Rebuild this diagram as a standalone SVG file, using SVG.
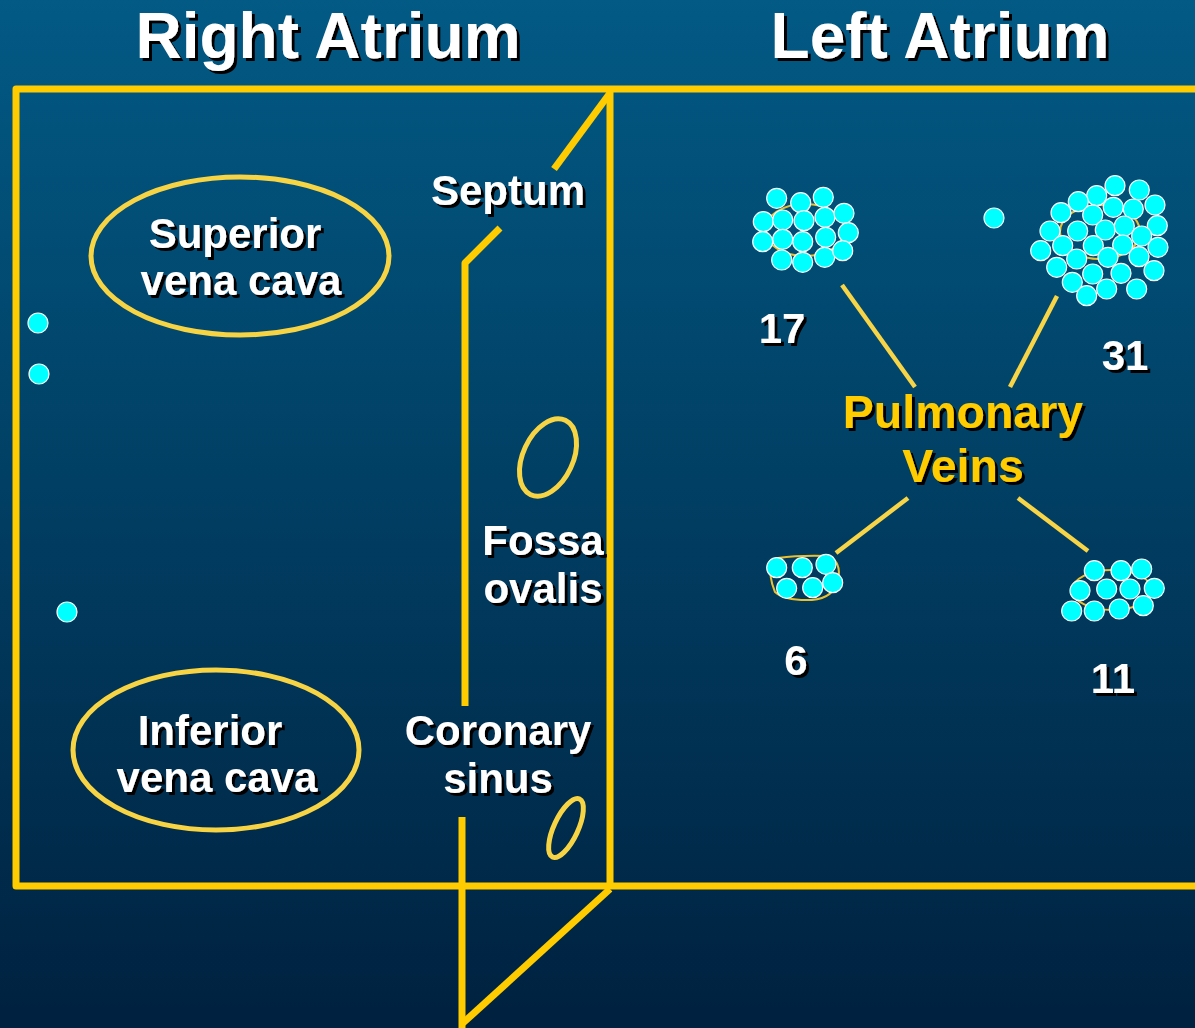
<svg xmlns="http://www.w3.org/2000/svg" width="1195" height="1028" viewBox="0 0 1195 1028">
<defs>
<linearGradient id="bg" x1="0" y1="0" x2="0" y2="1">
<stop offset="0" stop-color="#025a85"/>
<stop offset="1" stop-color="#00213f"/>
</linearGradient>
<filter id="sh" x="-10%" y="-10%" width="130%" height="140%">
<feDropShadow dx="3" dy="3" stdDeviation="0.4" flood-color="#000" flood-opacity="1"/>
</filter>
<circle id="d" r="10"/>
</defs>
<style>
.frame{fill:none;stroke:#ffcc00;stroke-width:7;stroke-linejoin:round}
.ell{fill:none;stroke:#f7d444;stroke-width:5}
.conn{stroke:#f7d547;stroke-width:4.5;fill:none}
.t{font-family:"Liberation Sans",Arial,sans-serif;font-weight:bold;fill:#fff;text-anchor:middle;filter:url(#sh)}
.h{font-size:64px}
.l{font-size:42px}
.pv{font-size:46.5px;fill:#ffcc00}
.dot{fill:#00ffff;stroke:#fff;stroke-width:1.2}
.blob{fill:none;stroke:#e8c030;stroke-width:2}
</style>
<rect width="1195" height="1028" fill="url(#bg)"/>

<g id="frame">
<path class="frame" d="M1199,89 H16 V886 H1199"/>
<path class="frame" d="M610,89 V886"/>
</g>

<g id="septum">
<path class="frame" d="M610,93 L554,169"/>
<path class="frame" d="M500,228 L465,263 V706"/>
<path class="frame" d="M462,817 V1028"/>
<path class="frame" d="M610,889 L463,1023"/>
</g>

<g id="titles">
<text class="t h" x="328" y="58">Right Atrium</text>
<text class="t h" x="940" y="58">Left Atrium</text>
</g>

<g id="svc">
<ellipse class="ell" cx="240" cy="256" rx="149" ry="79"/>
<text class="t l" x="235" y="248">Superior</text>
<text class="t l" x="241" y="295">vena cava</text>
</g>

<g id="ivc">
<ellipse class="ell" cx="216" cy="750" rx="143" ry="80"/>
<text class="t l" x="210" y="745">Inferior</text>
<text class="t l" x="217" y="792">vena cava</text>
</g>

<g id="septum-label">
<text class="t l" x="508" y="205">Septum</text>
</g>

<g id="fossa">
<ellipse class="ell" cx="548" cy="457.5" rx="25" ry="41" transform="rotate(25 548 457.5)"/>
<text class="t l" x="543" y="555">Fossa</text>
<text class="t l" x="543" y="603">ovalis</text>
</g>

<g id="coronary">
<text class="t l" x="498" y="745">Coronary</text>
<text class="t l" x="498" y="793">sinus</text>
<ellipse class="ell" cx="566" cy="828" rx="12" ry="32" transform="rotate(25 566 828)"/>
</g>

<g id="single-dots">
<use href="#d" class="dot" x="38" y="323"/>
<use href="#d" class="dot" x="39" y="374"/>
<use href="#d" class="dot" x="67" y="612"/>
<use href="#d" class="dot" x="994" y="218"/>
</g>

<g id="connectors">
<line class="conn" x1="842" y1="285" x2="915" y2="387"/>
<line class="conn" x1="1057" y1="296" x2="1010" y2="387"/>
<line class="conn" x1="908" y1="498" x2="836" y2="553"/>
<line class="conn" x1="1018" y1="498" x2="1088" y2="551"/>
</g>

<g id="pulmonary">
<text class="t pv" x="963" y="428">Pulmonary</text>
<text class="t pv" x="963" y="482">Veins</text>
</g>

<g id="vein17">
<ellipse class="blob" cx="805" cy="230" rx="40" ry="26"/>
<use href="#d" class="dot" x="776.7" y="198.3"/>
<use href="#d" class="dot" x="800.7" y="202.7"/>
<use href="#d" class="dot" x="823.3" y="197.3"/>
<use href="#d" class="dot" x="763.3" y="221.7"/>
<use href="#d" class="dot" x="782.7" y="220"/>
<use href="#d" class="dot" x="804" y="220.7"/>
<use href="#d" class="dot" x="825" y="217.3"/>
<use href="#d" class="dot" x="844" y="213.3"/>
<use href="#d" class="dot" x="782.7" y="239.3"/>
<use href="#d" class="dot" x="762.7" y="241.7"/>
<use href="#d" class="dot" x="802.7" y="241.7"/>
<use href="#d" class="dot" x="825.7" y="237.3"/>
<use href="#d" class="dot" x="848.3" y="232.7"/>
<use href="#d" class="dot" x="781.7" y="260"/>
<use href="#d" class="dot" x="802.7" y="262.3"/>
<use href="#d" class="dot" x="824.7" y="257.3"/>
<use href="#d" class="dot" x="842.7" y="250.7"/>
<text class="t l" x="782" y="343">17</text>
</g>

<g id="vein31">
<ellipse class="blob" cx="1100" cy="232" rx="40" ry="27"/>
<use href="#d" class="dot" x="1115" y="185.7"/>
<use href="#d" class="dot" x="1139.3" y="190"/>
<use href="#d" class="dot" x="1096.7" y="195.7"/>
<use href="#d" class="dot" x="1078.3" y="201.7"/>
<use href="#d" class="dot" x="1155" y="205"/>
<use href="#d" class="dot" x="1061" y="212.7"/>
<use href="#d" class="dot" x="1092.7" y="215"/>
<use href="#d" class="dot" x="1113.3" y="207.3"/>
<use href="#d" class="dot" x="1133.3" y="209"/>
<use href="#d" class="dot" x="1050" y="231"/>
<use href="#d" class="dot" x="1077.7" y="231"/>
<use href="#d" class="dot" x="1105.3" y="230"/>
<use href="#d" class="dot" x="1124.3" y="226"/>
<use href="#d" class="dot" x="1157.3" y="225.7"/>
<use href="#d" class="dot" x="1141.7" y="236"/>
<use href="#d" class="dot" x="1040.7" y="250.7"/>
<use href="#d" class="dot" x="1062.7" y="245.7"/>
<use href="#d" class="dot" x="1093.3" y="245.7"/>
<use href="#d" class="dot" x="1122.7" y="245"/>
<use href="#d" class="dot" x="1158" y="247.3"/>
<use href="#d" class="dot" x="1076.7" y="259"/>
<use href="#d" class="dot" x="1108" y="257.3"/>
<use href="#d" class="dot" x="1139" y="256.7"/>
<use href="#d" class="dot" x="1056.7" y="267.3"/>
<use href="#d" class="dot" x="1092.7" y="274"/>
<use href="#d" class="dot" x="1121" y="273.3"/>
<use href="#d" class="dot" x="1154" y="270.7"/>
<use href="#d" class="dot" x="1072.3" y="282.3"/>
<use href="#d" class="dot" x="1106.7" y="289"/>
<use href="#d" class="dot" x="1136.7" y="289"/>
<use href="#d" class="dot" x="1086.7" y="295.7"/>
<text class="t l" x="1125" y="370">31</text>
</g>

<g id="vein6">
<path class="blob" d="M778,558 Q800,555 828,556 Q842,562 838,580 Q834,598 812,600 Q785,601 775,592 Q768,575 772,565 Z"/>
<use href="#d" class="dot" x="776.7" y="567.7"/>
<use href="#d" class="dot" x="802.3" y="567.7"/>
<use href="#d" class="dot" x="826" y="564.3"/>
<use href="#d" class="dot" x="786.7" y="588.3"/>
<use href="#d" class="dot" x="812.7" y="587.7"/>
<use href="#d" class="dot" x="832.7" y="582.7"/>
<text class="t l" x="796" y="675">6</text>
</g>

<g id="vein11">
<ellipse class="blob" cx="1112" cy="590" rx="40" ry="20"/>
<use href="#d" class="dot" x="1094.3" y="570.7"/>
<use href="#d" class="dot" x="1121" y="570.7"/>
<use href="#d" class="dot" x="1141.7" y="569"/>
<use href="#d" class="dot" x="1080" y="590.7"/>
<use href="#d" class="dot" x="1106.7" y="589"/>
<use href="#d" class="dot" x="1130" y="589"/>
<use href="#d" class="dot" x="1154.3" y="588.3"/>
<use href="#d" class="dot" x="1071.7" y="611"/>
<use href="#d" class="dot" x="1094.3" y="611"/>
<use href="#d" class="dot" x="1119.3" y="609"/>
<use href="#d" class="dot" x="1143.3" y="605.7"/>
<text class="t l" x="1113" y="693">11</text>
</g>
</svg>
